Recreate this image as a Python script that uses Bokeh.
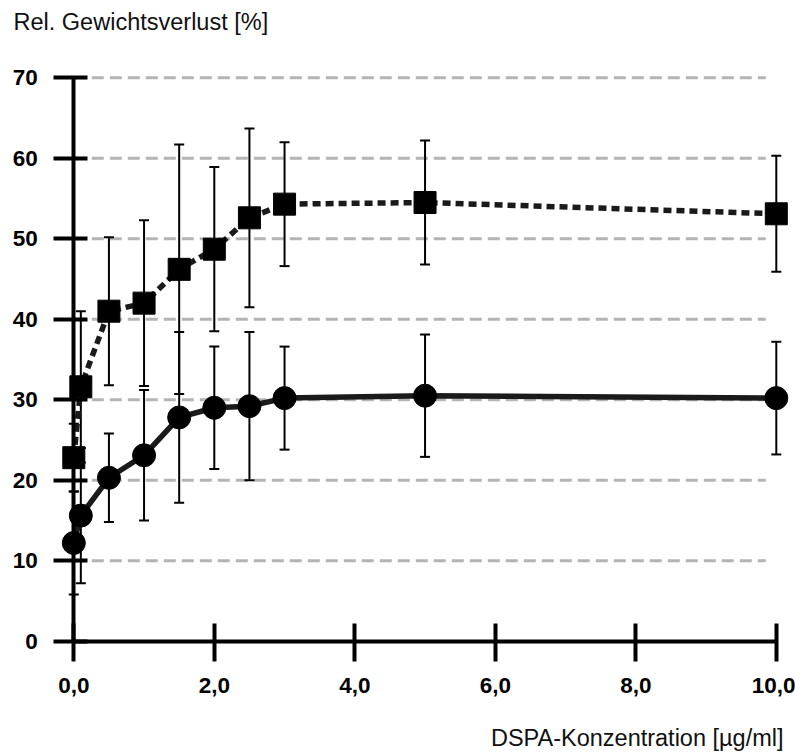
from bokeh.plotting import figure
from bokeh.models import ColumnDataSource, FixedTicker, Whisker, TeeHead, Label, Range1d
from bokeh.embed import file_html
from bokeh.resources import INLINE

# ---- data ----
conc = [0, 0.1, 0.5, 1, 1.5, 2, 2.5, 3, 5, 10]
loss_circle = [12.2, 15.6, 20.3, 23.1, 27.8, 29.0, 29.2, 30.2, 30.5, 30.2]
sd_circle = [6.4, 8.4, 5.5, 8.1, 10.6, 7.6, 9.2, 6.4, 7.6, 7.0]
loss_square = [22.8, 31.6, 41.0, 42.0, 46.2, 48.7, 52.6, 54.3, 54.5, 53.1]
sd_square = [4.2, 9.4, 9.2, 10.3, 15.5, 10.2, 11.1, 7.7, 7.7, 7.2]
x_ticks = [0, 2, 4, 6, 8, 10]
x_tick_labels = ["0,0", "2,0", "4,0", "6,0", "8,0", "10,0"]
y_ticks = [0, 10, 20, 30, 40, 50, 60, 70]
y_title = "Rel. Gewichtsverlust [%]"
x_title = "DSPA-Konzentration [µg/ml]"

FONT = "Liberation Sans"

src_c = ColumnDataSource(dict(
    x=conc, y=loss_circle,
    lo=[m - s for m, s in zip(loss_circle, sd_circle)],
    hi=[m + s for m, s in zip(loss_circle, sd_circle)],
))
src_s = ColumnDataSource(dict(
    x=conc, y=loss_square,
    lo=[m - s for m, s in zip(loss_square, sd_square)],
    hi=[m + s for m, s in zip(loss_square, sd_square)],
))

p = figure(width=795, height=752,
           x_range=Range1d(-1.0434, 10.2733), y_range=Range1d(-13.83, 79.60),
           toolbar_location=None, output_backend="svg", min_border=0)
p.outline_line_color = None
p.background_fill_color = "white"
p.border_fill_color = "white"
p.xgrid.visible = False
p.ygrid.visible = False

# dashed horizontal grid lines starting at the y axis
grid_y = y_ticks[1:]
p.segment(x0=[0.0] * len(grid_y), x1=[9.85] * len(grid_y), y0=grid_y, y1=grid_y,
          line_color="#b4b4b4", line_width=3, line_dash="12 6", level="image")

# error bars
for src in (src_s, src_c):
    w = Whisker(base="x", upper="hi", lower="lo", source=src,
                line_color="black", line_width=2, level="underlay",
                upper_head=TeeHead(size=10, line_width=2, line_color="black"),
                lower_head=TeeHead(size=10, line_width=2, line_color="black"))
    p.add_layout(w)

# series
p.line("x", "y", source=src_s, line_color="#1a1a1a", line_width=5.5, line_dash="8 5")
p.scatter("x", "y", source=src_s, marker="square", size=22,
          fill_color="black", line_color="black")
p.line("x", "y", source=src_c, line_color="#1a1a1a", line_width=5.5)
p.scatter("x", "y", source=src_c, marker="circle", size=23,
          fill_color="black", line_color="black")

# axes crossing at the origin
xa = p.xaxis[0]
xa.fixed_location = 0
xa.bounds = (0, 10)
xa.ticker = FixedTicker(ticks=x_ticks)
xa.major_label_overrides = {t: l for t, l in zip(x_ticks, x_tick_labels)}
xa.axis_line_width = 4
xa.axis_line_color = "black"
xa.major_tick_line_width = 4
xa.major_tick_line_color = "black"
xa.major_tick_in = 18
xa.major_tick_out = 20
xa.minor_tick_line_color = None
xa.major_label_text_font = FONT
xa.major_label_text_font_size = "22.5px"
xa.major_label_text_font_style = "bold"
xa.major_label_text_color = "black"
xa.major_label_standoff = 17

ya = p.yaxis[0]
ya.fixed_location = 0
ya.bounds = (0, 70)
ya.ticker = FixedTicker(ticks=y_ticks)
ya.axis_line_width = 4
ya.axis_line_color = "black"
ya.major_tick_line_width = 4
ya.major_tick_line_color = "black"
ya.major_tick_in = 14
ya.major_tick_out = 20
ya.minor_tick_line_color = None
ya.major_label_text_font = FONT
ya.major_label_text_font_size = "22.5px"
ya.major_label_text_font_style = "bold"
ya.major_label_text_color = "black"
ya.major_label_standoff = 16

# axis titles
p.add_layout(Label(x=-0.858, y=76.87, text=y_title, text_font=FONT,
                   text_font_size="23.5px", text_color="#111111",
                   text_align="left", text_baseline="alphabetic"))
p.add_layout(Label(x=10.103, y=-12.05, text=x_title, text_font=FONT,
                   text_font_size="23.5px", text_color="#111111",
                   text_align="right", text_baseline="alphabetic"))

open("out.html", "w").write(file_html(p, INLINE))
